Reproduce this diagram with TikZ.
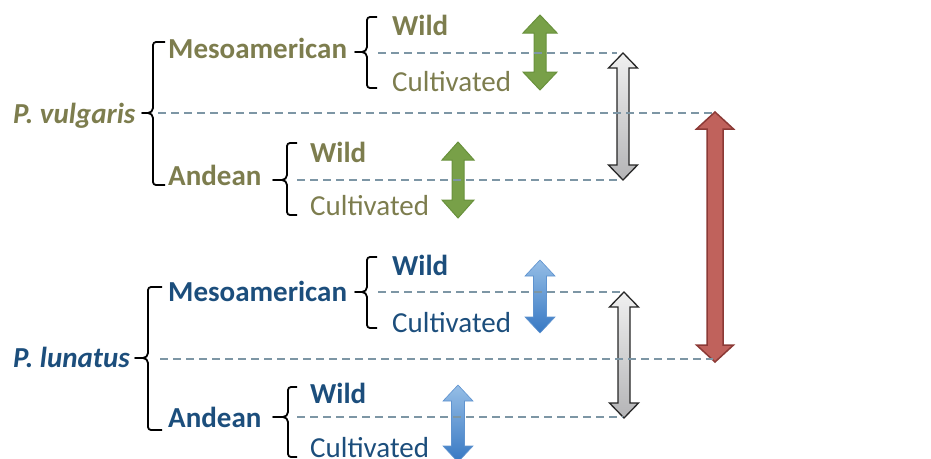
\documentclass[tikz,border=0pt]{standalone}
\usepackage{fontspec}
\setmainfont{Carlito}
\definecolor{olivetxt}{RGB}{125,125,78}
\definecolor{bluetxt}{RGB}{28,78,124}
\definecolor{dashcol}{RGB}{125,150,165}
\definecolor{greenfill}{RGB}{120,160,72}
\definecolor{greenline}{RGB}{105,145,60}
\definecolor{bluetop}{RGB}{150,190,230}
\definecolor{bluebot}{RGB}{55,120,195}
\definecolor{redfill}{RGB}{192,98,92}
\definecolor{redline}{RGB}{140,58,54}
\definecolor{graytop}{RGB}{240,240,240}
\definecolor{graybot}{RGB}{180,180,182}
\newcommand\dbarrow[7]{%
  \path[#1] ({#2-#6},{#3+#7}) -- (#2,#3) -- ({#2+#6},{#3+#7}) -- ({#2+#5},{#3+#7})
    -- ({#2+#5},{#4-#7}) -- ({#2+#6},{#4-#7}) -- (#2,#4) -- ({#2-#6},{#4-#7})
    -- ({#2-#5},{#4-#7}) -- ({#2-#5},{#3+#7}) -- cycle;}
\newcommand\brc[6]{%
  \draw[bracestyle] (#6,#4) -- ({#3+3},#4) to[out=180,in=90] (#3,{#4+3})
    -- (#3,{#2-5}) to[out=-90,in=0] ({#3-5},#2) -- (#1,#2) -- ({#3-5},#2)
    to[out=0,in=90] (#3,{#2+5}) -- (#3,{#5-3}) to[out=-90,in=180] ({#3+3},#5) -- (#6,#5);}
\tikzset{
  bracestyle/.style={line width=1.8pt, black, line join=round},
  dashln/.style={dashcol, line width=1.5pt, dash pattern=on 8pt off 5pt},
  lbl/.style={anchor=base west, inner sep=0pt, font=\fontsize{29}{34}\selectfont},
  vtxt/.style={lbl, text=olivetxt},
  ltxt/.style={lbl, text=bluetxt},
  greenarr/.style={fill=greenfill, draw=greenline, line width=1pt, line join=miter},
  bluearr/.style={top color=bluetop, bottom color=bluebot, draw=bluebot!80!white, line width=0.6pt},
  grayarr/.style={top color=graytop, bottom color=graybot, draw=black!85, line width=1.3pt},
  redarr/.style={fill=redfill, draw=redline, line width=1.5pt},
}
\begin{document}
\begin{tikzpicture}[x=1pt,y=-1pt]
\useasboundingbox (0,0) rectangle (931,458);
% ---- P. vulgaris ----
\node[vtxt] (pv) at (13,123) {\textbf{\textit{P. vulgaris}}};
\node[vtxt] (pvm) at (168,58) {\textbf{Mesoamerican}};
\node[vtxt] (pva) at (168,185) {\textbf{Andean}};
\node[vtxt] (pvmw) at (392,35) {\textbf{Wild}};
\node[vtxt] (pvmc) at (392,91) {Cultivated};
\node[vtxt] (pvaw) at (310,162) {\textbf{Wild}};
\node[vtxt] (pvac) at (310,215) {Cultivated};
% ---- P. lunatus ----
\node[ltxt] (pl) at (13,367) {\textbf{\textit{P. lunatus}}};
\node[ltxt] (plm) at (168,301) {\textbf{Mesoamerican}};
\node[ltxt] (pla) at (168,427) {\textbf{Andean}};
\node[ltxt] (plmw) at (392,275) {\textbf{Wild}};
\node[ltxt] (plmc) at (392,332) {Cultivated};
\node[ltxt] (plaw) at (310,403) {\textbf{Wild}};
\node[ltxt] (plac) at (310,457) {Cultivated};
% ---- braces ----
\brc{142}{113}{153}{42}{185}{165}
\brc{355}{52}{367}{17}{88}{377}
\brc{273}{180}{287}{143}{215}{297}
\brc{135}{358}{148}{287}{430}{162}
\brc{355}{292}{367}{257}{328}{377}
\brc{273}{417}{288}{387}{457}{297}
% ---- arrows ----
\dbarrow{greenarr}{540}{15}{90}{6}{17}{18}
\dbarrow{greenarr}{458}{142}{218}{6}{16}{18}
\dbarrow{bluearr}{540}{260}{333}{6.5}{15}{16}
\dbarrow{bluearr}{458}{385}{462}{6.5}{15}{16}
\dbarrow{grayarr}{623}{53}{180}{6}{14.5}{15}
\dbarrow{grayarr}{624}{292}{418}{6}{14.5}{15}
\dbarrow{redarr}{715}{112}{362}{8}{18.5}{17}
% ---- dashed lines ----
\coordinate (d1a) at (378,53);  \coordinate (d1b) at (617,53);
\coordinate (d2a) at (158,113); \coordinate (d2b) at (713,113);
\coordinate (d3a) at (297,180); \coordinate (d3b) at (617,180);
\coordinate (d4a) at (378,292); \coordinate (d4b) at (620,292);
\coordinate (d5a) at (160,359); \coordinate (d5b) at (713,359);
\coordinate (d6a) at (297,417); \coordinate (d6b) at (623,417);
\draw[dashln] (d1a) -- (d1b);
\draw[dashln] (d2a) -- (d2b);
\draw[dashln] (d3a) -- (d3b);
\draw[dashln] (d4a) -- (d4b);
\draw[dashln] (d5a) -- (d5b);
\draw[dashln] (d6a) -- (d6b);
\end{tikzpicture}
\end{document}
